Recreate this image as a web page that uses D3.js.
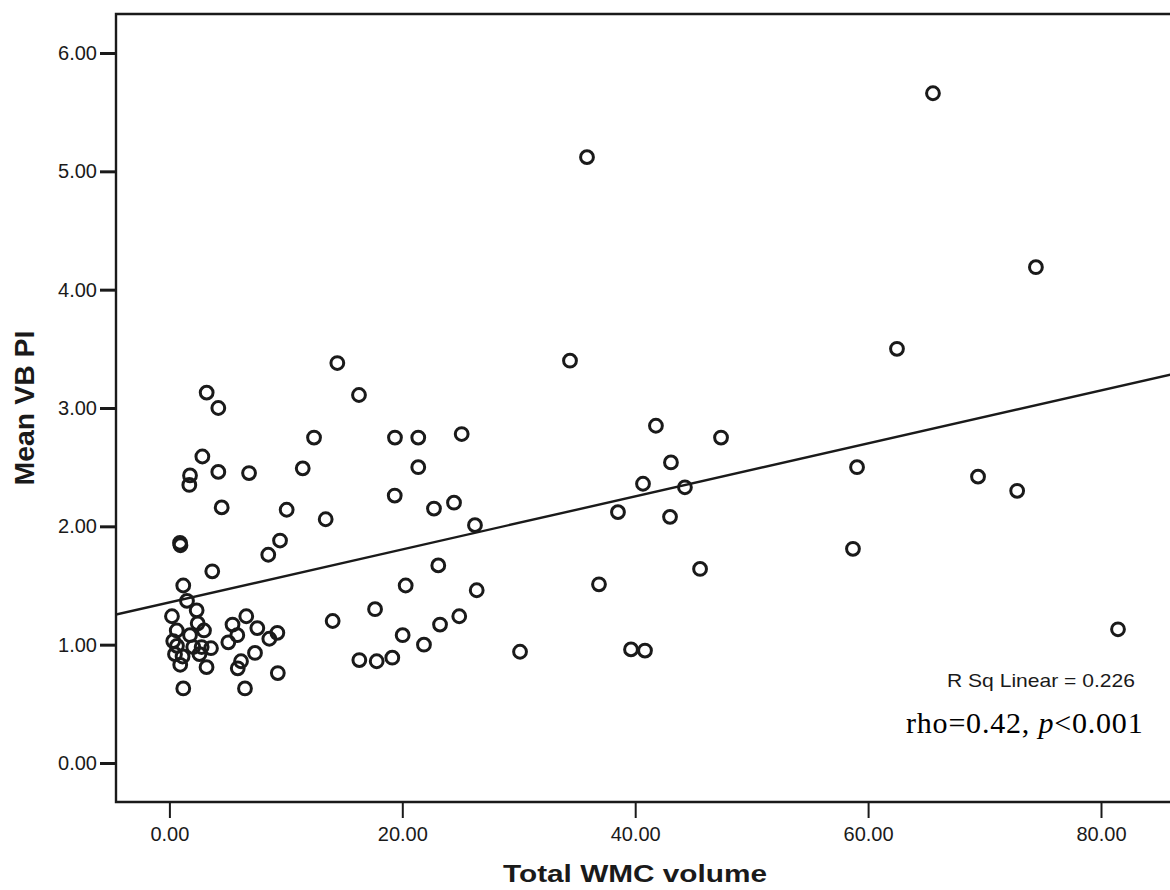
<!DOCTYPE html>
<html>
<head>
<meta charset="utf-8">
<script src="https://cdn.jsdelivr.net/npm/d3@7"></script>
<style>
  html, body { margin: 0; padding: 0; background: #fff; }
  svg { display: block; }
</style>
</head>
<body>
<svg id="chart" width="1170" height="890"></svg>
<script>
// ---- data ----
const wmcVolume = [
  3.20, 4.20, 2.83, 4.20, 6.84, 1.77, 1.71, 4.49, 0.91, 0.95,
  8.49, 9.50, 3.68, 1.19, 1.51, 2.34, 0.22, 2.43, 0.63, 2.97,
  1.77, 0.33, 0.65, 2.05, 2.77, 3.57, 0.48, 2.58, 1.13, 0.93,
  3.19, 1.19, 5.42, 6.60, 7.55, 5.83, 5.06, 8.58, 9.27, 7.35,
  6.15, 5.87, 9.31, 6.49, 11.45, 12.42, 10.07, 13.42, 14.42, 16.28,
  19.37, 21.37, 25.10, 21.37, 19.35, 22.72, 24.44, 26.24, 23.09, 20.29,
  26.39, 17.66, 14.02, 23.24, 24.89, 20.03, 21.86, 16.31, 17.80, 19.14,
  30.11, 35.86, 34.40, 41.78, 43.07, 40.67, 44.27, 38.52, 42.99, 47.37,
  45.57, 36.89, 39.64, 40.84, 65.57, 74.41, 62.48, 59.05, 58.70, 69.44,
  72.80, 81.46
];
const meanVbPi = [
  3.13, 3.00, 2.59, 2.46, 2.45, 2.43, 2.35, 2.16, 1.86, 1.84,
  1.76, 1.88, 1.62, 1.50, 1.37, 1.29, 1.24, 1.18, 1.12, 1.12,
  1.08, 1.03, 0.99, 0.98, 0.98, 0.97, 0.92, 0.92, 0.90, 0.83,
  0.81, 0.63, 1.17, 1.24, 1.14, 1.08, 1.02, 1.05, 1.10, 0.93,
  0.86, 0.80, 0.76, 0.63, 2.49, 2.75, 2.14, 2.06, 3.38, 3.11,
  2.75, 2.75, 2.78, 2.50, 2.26, 2.15, 2.20, 2.01, 1.67, 1.50,
  1.46, 1.30, 1.20, 1.17, 1.24, 1.08, 1.00, 0.87, 0.86, 0.89,
  0.94, 5.12, 3.40, 2.85, 2.54, 2.36, 2.33, 2.12, 2.08, 2.75,
  1.64, 1.51, 0.96, 0.95, 5.66, 4.19, 3.50, 2.50, 1.81, 2.42,
  2.30, 1.13
];
const xTicks = [0, 20, 40, 60, 80];
const yTicks = [0, 1, 2, 3, 4, 5, 6];
const fitLine = [1.357, 0.0224]; // intercept, slope
const xTitle = "Total WMC volume";
const yTitle = "Mean VB PI";
const rsqLabel = "R Sq Linear = 0.226";
const statLabel = ["rho=0.42, ", "p", "<0.001"];

// ---- layout ----
const svg = d3.select("#chart");
const frame = { left: 116, top: 14, right: 1174, bottom: 802 };
const x = d3.scaleLinear().domain([0, 80]).range([169.4, 1101]);
const y = d3.scaleLinear().domain([0, 6]).range([763, 53]);
const ink = "#1a1a1a";

svg.append("rect").attr("width", 1170).attr("height", 890).attr("fill", "#fff");

// frame
svg.append("path")
  .attr("d", `M${frame.right},${frame.top}H${frame.left}V${frame.bottom}H${frame.right}`)
  .attr("fill", "none").attr("stroke", ink).attr("stroke-width", 2.4);

// axes
const xAxis = d3.axisBottom(x).tickValues(xTicks).tickSize(16).tickPadding(9)
  .tickFormat(d3.format(".2f"));
const gx = svg.append("g").attr("transform", `translate(0,${frame.bottom})`).call(xAxis);
gx.select(".domain").remove();
gx.selectAll("line").attr("stroke", ink).attr("stroke-width", 2);
gx.selectAll("text").attr("font-family", "'Liberation Sans', Arial, sans-serif")
  .attr("font-size", 20).attr("fill", ink);

const yAxis = d3.axisLeft(y).tickValues(yTicks).tickSize(16).tickPadding(3)
  .tickFormat(d3.format(".2f"));
const gy = svg.append("g").attr("transform", `translate(${frame.left},0)`).call(yAxis);
gy.select(".domain").remove();
gy.selectAll("line").attr("stroke", ink).attr("stroke-width", 3);
gy.selectAll("text").attr("font-family", "'Liberation Sans', Arial, sans-serif")
  .attr("font-size", 20).attr("fill", ink);

// clip region for plot contents
svg.append("clipPath").attr("id", "clip").append("rect")
  .attr("x", frame.left).attr("y", frame.top)
  .attr("width", frame.right - frame.left).attr("height", frame.bottom - frame.top);

const plot = svg.append("g").attr("clip-path", "url(#clip)");

// regression line
const x0 = x.invert(frame.left), x1 = x.invert(frame.right);
plot.append("line")
  .attr("x1", x(x0)).attr("y1", y(fitLine[0] + fitLine[1] * x0))
  .attr("x2", x(x1)).attr("y2", y(fitLine[0] + fitLine[1] * x1))
  .attr("stroke", ink).attr("stroke-width", 2.4);

// points
const pts = wmcVolume.map((v, i) => [v, meanVbPi[i]]);
plot.selectAll("circle.pt").data(pts).join("circle")
  .attr("class", "pt")
  .attr("cx", d => x(d[0])).attr("cy", d => y(d[1]))
  .attr("r", 6.4)
  .attr("fill", "none").attr("stroke", ink).attr("stroke-width", 3);

// annotations
svg.append("text").attr("x", 1135).attr("y", 687).attr("text-anchor", "end")
  .attr("font-family", "'Liberation Sans', Arial, sans-serif").attr("font-size", 19)
  .attr("fill", ink).attr("textLength", 188).attr("lengthAdjust", "spacingAndGlyphs")
  .text(rsqLabel);

const st = svg.append("text").attr("x", 906).attr("y", 733)
  .attr("font-family", "'Liberation Serif', 'Times New Roman', serif").attr("font-size", 30)
  .attr("letter-spacing", 0.8)
  .attr("fill", "#000");
st.append("tspan").text(statLabel[0]);
st.append("tspan").attr("font-style", "italic").text(statLabel[1]);
st.append("tspan").text(statLabel[2]);

// axis titles
svg.append("text").attr("x", 635).attr("y", 882).attr("text-anchor", "middle")
  .attr("font-family", "'Liberation Sans', Arial, sans-serif").attr("font-weight", "bold")
  .attr("font-size", 24).attr("fill", ink)
  .attr("textLength", 264).attr("lengthAdjust", "spacingAndGlyphs")
  .text(xTitle);

svg.append("text").attr("transform", "translate(34,408) rotate(-90)")
  .attr("text-anchor", "middle")
  .attr("font-family", "'Liberation Sans', Arial, sans-serif").attr("font-weight", "bold")
  .attr("font-size", 27).attr("fill", ink)
  .attr("textLength", 155).attr("lengthAdjust", "spacingAndGlyphs")
  .text(yTitle);
</script>
</body>
</html>
